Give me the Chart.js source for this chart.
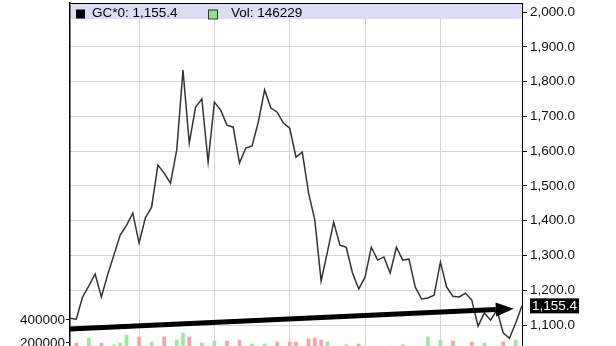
<!DOCTYPE html>
<html>
<head>
<meta charset="utf-8">
<title>GC*0</title>
<script src="https://cdn.jsdelivr.net/npm/chart.js@4.4.1/dist/chart.umd.min.js"></script>
<style>
  html, body { margin: 0; padding: 0; background: #fff; overflow: hidden; }
  #wrap { width: 616px; height: 346px; }
</style>
</head>
<body>
<div id="wrap"><canvas id="goldChart" width="616" height="346"></canvas></div>
<script>
// monthly bars, Feb 2010 .. Feb 2016 (last one is the running month)
const months = [
  'Feb 10', 'Mar 10', 'Apr 10', 'May 10', 'Jun 10', 'Jul 10', 'Aug 10', 'Sep 10', 'Oct 10', 'Nov 10', 'Dec 10',
  'Jan 11', 'Feb 11', 'Mar 11', 'Apr 11', 'May 11', 'Jun 11', 'Jul 11', 'Aug 11', 'Sep 11', 'Oct 11', 'Nov 11', 'Dec 11',
  'Jan 12', 'Feb 12', 'Mar 12', 'Apr 12', 'May 12', 'Jun 12', 'Jul 12', 'Aug 12', 'Sep 12', 'Oct 12', 'Nov 12', 'Dec 12',
  'Jan 13', 'Feb 13', 'Mar 13', 'Apr 13', 'May 13', 'Jun 13', 'Jul 13', 'Aug 13', 'Sep 13', 'Oct 13', 'Nov 13', 'Dec 13',
  'Jan 14', 'Feb 14', 'Mar 14', 'Apr 14', 'May 14', 'Jun 14', 'Jul 14', 'Aug 14', 'Sep 14', 'Oct 14', 'Nov 14', 'Dec 14',
  'Jan 15', 'Feb 15', 'Mar 15', 'Apr 15', 'May 15', 'Jun 15', 'Jul 15', 'Aug 15', 'Sep 15', 'Oct 15', 'Nov 15', 'Dec 15',
  'Jan 16', 'Feb 16'
];

const closes = [
  1120, 1117, 1181, 1213, 1247, 1181, 1245, 1302, 1359, 1387, 1422,
  1336, 1408, 1439, 1560, 1537, 1508, 1603, 1833, 1623, 1727, 1750, 1569,
  1741, 1718, 1675, 1669, 1566, 1609, 1615, 1684, 1776, 1724, 1712, 1681,
  1666, 1583, 1597, 1480, 1402, 1227, 1310, 1396, 1330, 1324, 1250, 1204,
  1238, 1324, 1287, 1296, 1250, 1324, 1287, 1290, 1209, 1175, 1178, 1186,
  1281, 1209, 1183, 1181, 1192, 1172, 1097, 1135, 1114, 1143, 1078, 1062,
  1106, 1155.4
];

const volumes = [
  165000, 200000, 170000, 243000, 165000, 200000, 160000, 183000, 200000, 270000, 168000,
  252000, 170000, 209000, 172000, 252000, 165000, 226000, 287000, 252000, 170000, 200000, 168000,
  217000, 165000, 217000, 160000, 226000, 170000, 191000, 165000, 191000, 168000, 209000, 165000,
  209000, 209000, 170000, 235000, 243000, 226000, 209000, 165000, 170000, 183000, 168000, 191000,
  170000, 165000, 170000, 168000, 172000, 165000, 183000, 168000, 170000, 165000, 252000, 170000,
  226000, 168000, 217000, 165000, 170000, 209000, 172000, 200000, 168000, 170000, 209000, 165000,
  226000, 146229
];

const priceTicks = [1100, 1200, 1300, 1400, 1500, 1600, 1700, 1800, 1900, 2000];
const volumeTicks = [200000, 400000];

// hand drawn trend arrow, in (month index, price)
const trendFrom = [0, 1089];
const trendTo = [70.7, 1147];

const fontFamily = '"Liberation Sans", Arial, sans-serif';
const gridColor = '#d4d4d4';

function fmtPrice(v) {
  return v.toLocaleString('en-US', { minimumFractionDigits: 1, maximumFractionDigits: 1 });
}

const lastClose = closes[closes.length - 1];
const lastVolume = volumes[volumes.length - 1];

// up month = green, down month = red
const barColors = closes.map((c, i) => (i === 0 || c >= closes[i - 1]) ? '#9fe79f' : '#f4a5a5');

const chartFrame = {
  id: 'chartFrame',
  beforeDatasetsDraw(chart) {
    const { ctx, chartArea: a } = chart;
    ctx.save();
    // legend strip
    ctx.fillStyle = '#dcdcf5';
    ctx.fillRect(a.left + 1, a.top + 1, a.right - a.left - 1, 15);
    ctx.font = '13.5px ' + fontFamily;
    ctx.textBaseline = 'middle';
    ctx.fillStyle = '#000';
    ctx.fillRect(a.left + 6, a.top + 6.5, 9, 9);
    ctx.fillText('GC*0: ' + fmtPrice(lastClose), a.left + 22, a.top + 10);
    ctx.fillStyle = '#8fe08f';
    ctx.fillRect(a.left + 138, a.top + 6.5, 9, 9);
    ctx.strokeStyle = '#333';
    ctx.lineWidth = 1;
    ctx.strokeRect(a.left + 138.5, a.top + 7, 9, 9);
    ctx.fillStyle = '#000';
    ctx.fillText('Vol: ' + lastVolume, a.left + 161, a.top + 10);
    ctx.restore();
  },
  afterDatasetsDraw(chart) {
    const { ctx } = chart;
    const xs = chart.scales.x, ys = chart.scales.y;
    const x0 = xs.getPixelForValue(trendFrom[0]), y0 = ys.getPixelForValue(trendFrom[1]);
    const x1 = xs.getPixelForValue(trendTo[0]), y1 = ys.getPixelForValue(trendTo[1]);
    const ang = Math.atan2(y1 - y0, x1 - x0);
    const headLen = 18, headW = 7;
    const bx = x1 - headLen * Math.cos(ang), by = y1 - headLen * Math.sin(ang);
    ctx.save();
    ctx.strokeStyle = '#000';
    ctx.fillStyle = '#000';
    ctx.lineWidth = 5;
    ctx.beginPath();
    ctx.moveTo(x0, y0);
    ctx.lineTo(bx, by);
    ctx.stroke();
    ctx.beginPath();
    ctx.moveTo(x1, y1);
    ctx.lineTo(bx - headW * Math.sin(ang), by + headW * Math.cos(ang));
    ctx.lineTo(bx + headW * Math.sin(ang), by - headW * Math.cos(ang));
    ctx.closePath();
    ctx.fill();
    ctx.restore();
  },
  afterDraw(chart) {
    const { ctx, chartArea: a } = chart;
    const ys = chart.scales.y;
    ctx.save();
    // top edge of the plot box
    ctx.strokeStyle = '#000';
    ctx.lineWidth = 1;
    ctx.beginPath();
    ctx.moveTo(a.left, a.top + 0.5);
    ctx.lineTo(a.right + 1, a.top + 0.5);
    ctx.stroke();
    // last price tag
    const label = fmtPrice(lastClose);
    ctx.font = '13.5px ' + fontFamily;
    const w = ctx.measureText(label).width + 4;
    const yc = ys.getPixelForValue(lastClose);
    ctx.fillStyle = '#000';
    ctx.fillRect(a.right + 8, yc - 7.5, w, 15);
    ctx.fillStyle = '#fff';
    ctx.textBaseline = 'middle';
    ctx.fillText(label, a.right + 10, yc);
    ctx.restore();
  }
};

Chart.defaults.font.family = fontFamily;
Chart.defaults.font.size = 13.5;
Chart.defaults.color = '#111';

new Chart(document.getElementById('goldChart').getContext('2d'), {
  type: 'bar',
  data: {
    labels: months,
    datasets: [{
      type: 'line',
      label: 'GC*0',
      data: closes,
      borderColor: '#333',
      borderWidth: 1.5,
      pointRadius: 0,
      tension: 0,
      yAxisID: 'y',
      order: 1
    }, {
      type: 'bar',
      label: 'Vol',
      data: volumes,
      backgroundColor: barColors,
      barThickness: 3,
      yAxisID: 'yv',
      order: 2
    }]
  },
  options: {
    responsive: false,
    animation: false,
    events: [],
    layout: { padding: { top: 3, left: 0, right: 0, bottom: 0 } },
    plugins: {
      legend: { display: false },
      tooltip: { enabled: false }
    },
    scales: {
      x: {
        offset: false,
        ticks: { display: false, autoSkip: false },
        border: { display: false },
        grid: {
          offset: false,
          drawTicks: false,
          color: (c) => (months[c.index] && months[c.index].startsWith('Jan') && c.index < months.length - 2) ? gridColor : 'rgba(0,0,0,0)'
        },
        afterFit: (s) => { s.height = 0; }
      },
      y: {
        position: 'right',
        min: 1040,
        max: 2026,
        border: { display: true, color: '#000', width: 1 },
        grid: { color: gridColor, tickColor: '#000', tickLength: 5 },
        ticks: { padding: 3, callback: (v) => fmtPrice(v) },
        afterBuildTicks: (s) => { s.ticks = priceTicks.map((v) => ({ value: v })); },
        afterFit: (s) => { s.width = 94; s.paddingTop = 0; s.paddingBottom = 0; }
      },
      yv: {
        position: 'left',
        min: 173900,
        max: 3156600,
        border: { display: true, color: '#000', width: 1.5 },
        grid: { drawOnChartArea: false, tickColor: '#000', tickLength: 4 },
        ticks: { padding: 1, callback: (v) => String(v) },
        afterBuildTicks: (s) => { s.ticks = volumeTicks.map((v) => ({ value: v })); },
        afterFit: (s) => { s.width = 70; s.paddingTop = 0; s.paddingBottom = 0; }
      }
    }
  },
  plugins: [chartFrame]
});
</script>
</body>
</html>
